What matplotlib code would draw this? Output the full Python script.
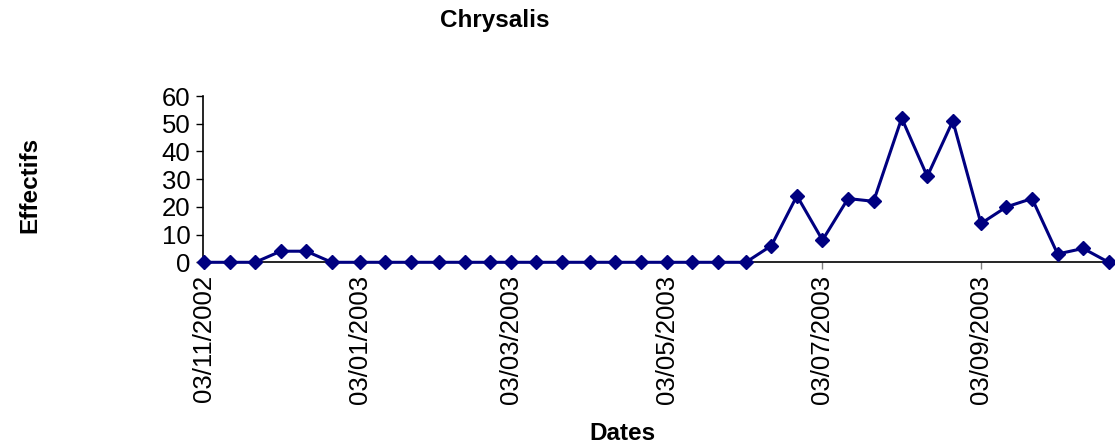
import matplotlib
matplotlib.use("Agg")
from matplotlib import pyplot as plt
import matplotlib.dates as mdates
import numpy as np
from datetime import datetime, timedelta

plt.rcParams['font.family'] = ['Liberation Sans', 'DejaVu Sans']

dates = ["03/11/2002", "13/11/2002", "23/11/2002", "03/12/2002", "13/12/2002", "23/12/2002",
         "03/01/2003", "13/01/2003", "23/01/2003", "03/02/2003", "13/02/2003", "23/02/2003",
         "03/03/2003", "13/03/2003", "23/03/2003", "03/04/2003", "13/04/2003", "23/04/2003",
         "03/05/2003", "13/05/2003", "23/05/2003", "03/06/2003", "13/06/2003", "23/06/2003",
         "03/07/2003", "13/07/2003", "23/07/2003", "03/08/2003", "13/08/2003", "23/08/2003",
         "03/09/2003", "13/09/2003", "23/09/2003", "03/10/2003", "13/10/2003", "23/10/2003"]
effectifs = [0, 0, 0, 4, 4, 0,
             0, 0, 0, 0, 0, 0,
             0, 0, 0, 0, 0, 0,
             0, 0, 0, 0, 6, 24,
             8, 23, 22, 52, 31, 51,
             14, 20, 23, 3, 5, 0]
tick_dates = ["03/11/2002", "03/01/2003", "03/03/2003", "03/05/2003", "03/07/2003", "03/09/2003"]
y_ticks = [0, 10, 20, 30, 40, 50, 60]

x = [datetime.strptime(d, "%d/%m/%Y") for d in dates]
xt = [datetime.strptime(d, "%d/%m/%Y") for d in tick_dates]

fig = plt.figure(figsize=(11.15, 4.46), dpi=100)
W, H = 1115, 446
ax = fig.add_axes([203 / W, 1 - 262.3 / H, 907 / W, 166.3 / H])

ax.plot(x, effectifs, '-', color='#000080', lw=2.2, marker='D', ms=7.5,
        mec='#000080', mfc='#000080', clip_on=False, zorder=3)

ax.set_xlim(x[0] - timedelta(days=0.4), x[-1] + timedelta(days=0.5))
ax.set_ylim(0, 60)
ax.set_yticks(y_ticks)
ax.set_xticks(xt)
ax.xaxis.set_major_formatter(mdates.DateFormatter("%d/%m/%Y"))

for s in ['top', 'right']:
    ax.spines[s].set_visible(False)
for s in ['left', 'bottom']:
    ax.spines[s].set_linewidth(1.2)
    ax.spines[s].set_color('black')

ax.tick_params(axis='y', direction='out', length=5, width=1, labelsize=18.5, pad=4, colors='black')
ax.tick_params(axis='x', direction='out', length=5, width=1, labelsize=18.5, pad=4,
               labelrotation=90, color='#808080', labelcolor='black')

ax.set_xlabel("Dates", fontsize=17.5, fontweight='bold', va='center')
ax.xaxis.set_label_coords((622 - 203) / 907, (262.3 - 433) / 166.3)
ax.set_ylabel("Effectifs", fontsize=17.5, fontweight='bold', va='center')
ax.yaxis.set_label_coords((30 - 203) / 907, (262.3 - 185) / 166.3)

fig.text(494.5 / W, 1 - 21 / H, "Chrysalis", fontsize=17.5, fontweight='bold',
         ha='center', va='center')

fig.savefig("out.png", dpi=100)
